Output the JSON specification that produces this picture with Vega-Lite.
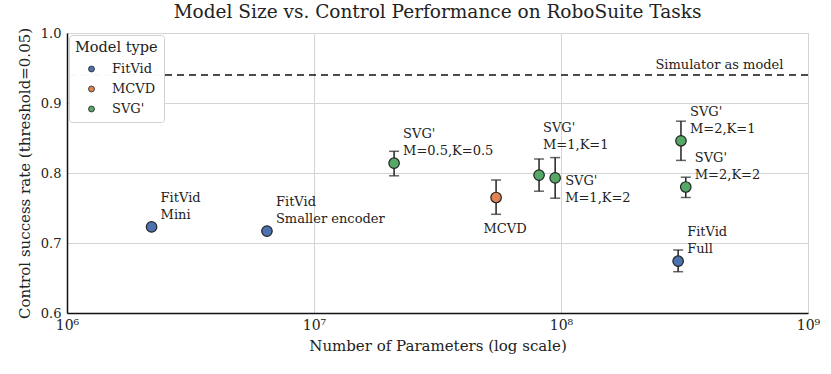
{
  "$schema": "https://vega.github.io/schema/vega-lite/v6.json",
  "width": 741,
  "height": 280,
  "autosize": {"type": "none"},
  "padding": {"left": 67, "top": 33, "right": 23, "bottom": 61},
  "background": "white",
  "title": {"text": "Model Size vs. Control Performance on RoboSuite Tasks", "font": "DejaVu Serif", "fontSize": 18.5, "fontWeight": "normal", "color": "#222", "offset": 6},
  "config": {
    "font": "DejaVu Serif",
    "view": {"stroke": "#d0d0d0", "strokeWidth": 1},
    "axis": {"labelFont": "DejaVu Serif", "titleFont": "DejaVu Serif", "labelFontSize": 13, "titleFontSize": 15, "titleFontWeight": "normal", "labelColor": "#222", "titleColor": "#222", "gridColor": "#d4d4d4", "gridWidth": 1, "domainColor": "#111", "domainWidth": 1.5, "ticks": false}
  },
  "datasets": {
    "pts": [
      {"model": "FitVid", "label": "FitVid\nMini", "params": 2.2e6, "rate": 0.723, "lo": null, "hi": null, "grp": "A"},
      {"model": "FitVid", "label": "FitVid\nSmaller encoder", "params": 6.45e6, "rate": 0.717, "lo": null, "hi": null, "grp": "A"},
      {"model": "SVG'", "label": "SVG'\nM=0.5,K=0.5", "params": 2.11e7, "rate": 0.814, "lo": 0.796, "hi": 0.831, "grp": "A"},
      {"model": "MCVD", "label": "MCVD", "params": 5.46e7, "rate": 0.765, "lo": 0.741, "hi": 0.790, "grp": "C"},
      {"model": "SVG'", "label": "SVG'\nM=1,K=1", "params": 8.15e7, "rate": 0.797, "lo": 0.774, "hi": 0.820, "grp": "D"},
      {"model": "SVG'", "label": "SVG'\nM=1,K=2", "params": 9.47e7, "rate": 0.793, "lo": 0.764, "hi": 0.822, "grp": "B"},
      {"model": "SVG'", "label": "SVG'\nM=2,K=1", "params": 3.06e8, "rate": 0.846, "lo": 0.818, "hi": 0.874, "grp": "A"},
      {"model": "SVG'", "label": "SVG'\nM=2,K=2", "params": 3.2e8, "rate": 0.780, "lo": 0.765, "hi": 0.794, "grp": "A"},
      {"model": "FitVid", "label": "FitVid\nFull", "params": 2.98e8, "rate": 0.674, "lo": 0.659, "hi": 0.690, "grp": "A"}
    ],
    "ref": [
      {"thr": 0.94, "label": "Simulator as model", "xpos": 7.95e8}
    ]
  },
  "layer": [
    {
      "data": {"name": "ref"},
      "mark": {"type": "rule", "color": "#111", "strokeWidth": 1.5, "strokeDash": [7, 5]},
      "encoding": {"y": {"field": "thr", "type": "quantitative", "scale": {"domain": [0.6, 1.0], "nice": false, "zero": false}}}
    },
    {
      "data": {"name": "ref"},
      "mark": {"type": "text", "align": "right", "baseline": "bottom", "dy": -3, "fontSize": 13, "color": "#222", "font": "DejaVu Serif"},
      "encoding": {
        "x": {"field": "xpos", "type": "quantitative", "scale": {"type": "log", "domain": [1e6, 1e9], "nice": false}},
        "y": {"field": "thr", "type": "quantitative"},
        "text": {"field": "label"}
      }
    },
    {
      "data": {"name": "pts"},
      "transform": [{"filter": "datum.hi != null"}],
      "layer": [
        {"mark": {"type": "rule", "color": "#222", "strokeWidth": 1.5},
         "encoding": {"x": {"field": "params", "type": "quantitative"}, "y": {"field": "lo", "type": "quantitative"}, "y2": {"field": "hi"}}},
        {"mark": {"type": "tick", "orient": "horizontal", "color": "#222", "size": 10, "thickness": 1.5},
         "encoding": {"x": {"field": "params", "type": "quantitative"}, "y": {"field": "lo", "type": "quantitative"}}},
        {"mark": {"type": "tick", "orient": "horizontal", "color": "#222", "size": 10, "thickness": 1.5},
         "encoding": {"x": {"field": "params", "type": "quantitative"}, "y": {"field": "hi", "type": "quantitative"}}}
      ]
    },
    {
      "data": {"name": "pts"},
      "mark": {"type": "point", "filled": true, "size": 110, "stroke": "#222", "strokeWidth": 1.2, "opacity": 1},
      "encoding": {
        "x": {"field": "params", "type": "quantitative", "scale": {"type": "log", "domain": [1e6, 1e9], "nice": false},
              "axis": {"title": "Number of Parameters (log scale)", "values": [1e6, 1e7, 1e8, 1e9], "labelExpr": "datum.value == 1e6 ? '10⁶' : datum.value == 1e7 ? '10⁷' : datum.value == 1e8 ? '10⁸' : '10⁹'", "labelFontSize": 14, "labelPadding": 5, "titlePadding": 6, "labelFlush": false}},
        "y": {"field": "rate", "type": "quantitative", "scale": {"domain": [0.6, 1.0], "nice": false, "zero": false},
              "axis": {"title": "Control success rate (threshold=0.05)", "values": [0.6, 0.7, 0.8, 0.9, 1.0], "format": ".1f", "labelPadding": 6, "titlePadding": 8}},
        "color": {"field": "model", "type": "nominal", "scale": {"domain": ["FitVid", "MCVD", "SVG'"], "range": ["#4c72b0", "#dd8452", "#55a868"]},
                  "legend": {"title": "Model type", "orient": "top-left", "offset": 2, "fillColor": "rgba(255,255,255,0.97)", "strokeColor": "#d0d0d0", "cornerRadius": 3, "padding": 6, "titleFont": "DejaVu Serif", "titleFontSize": 14.5, "titleFontWeight": "normal", "titleColor": "#222", "titlePadding": 7, "labelFont": "DejaVu Serif", "labelFontSize": 13, "labelColor": "#222", "symbolType": "circle", "symbolSize": 35, "symbolStrokeColor": "#222", "symbolStrokeWidth": 0.8, "symbolOffset": 10, "rowPadding": 6, "labelOffset": 14}}
      }
    },
    {
      "data": {"name": "pts"},
      "transform": [{"filter": "datum.grp == 'A'"}],
      "mark": {"type": "text", "align": "left", "baseline": "top", "dx": 9, "dy": -35, "fontSize": 13, "lineHeight": 17, "lineBreak": "\n", "color": "#222", "font": "DejaVu Serif"},
      "encoding": {"x": {"field": "params", "type": "quantitative"}, "y": {"field": "rate", "type": "quantitative"}, "text": {"field": "label"}}
    },
    {
      "data": {"name": "pts"},
      "transform": [{"filter": "datum.grp == 'B'"}],
      "mark": {"type": "text", "align": "left", "baseline": "top", "dx": 10, "dy": -3, "fontSize": 13, "lineHeight": 17, "lineBreak": "\n", "color": "#222", "font": "DejaVu Serif"},
      "encoding": {"x": {"field": "params", "type": "quantitative"}, "y": {"field": "rate", "type": "quantitative"}, "text": {"field": "label"}}
    },
    {
      "data": {"name": "pts"},
      "transform": [{"filter": "datum.grp == 'C'"}],
      "mark": {"type": "text", "align": "center", "baseline": "top", "dx": 9, "dy": 25, "fontSize": 13, "lineHeight": 17, "lineBreak": "\n", "color": "#222", "font": "DejaVu Serif"},
      "encoding": {"x": {"field": "params", "type": "quantitative"}, "y": {"field": "rate", "type": "quantitative"}, "text": {"field": "label"}}
    },
    {
      "data": {"name": "pts"},
      "transform": [{"filter": "datum.grp == 'D'"}],
      "mark": {"type": "text", "align": "left", "baseline": "top", "dx": 4, "dy": -53, "fontSize": 13, "lineHeight": 17, "lineBreak": "\n", "color": "#222", "font": "DejaVu Serif"},
      "encoding": {"x": {"field": "params", "type": "quantitative"}, "y": {"field": "rate", "type": "quantitative"}, "text": {"field": "label"}}
    }
  ]
}
